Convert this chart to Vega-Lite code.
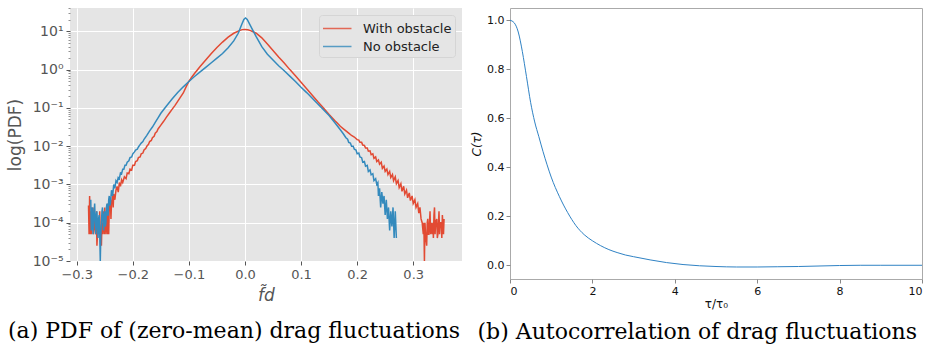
{
  "$schema": "https://vega.github.io/schema/vega-lite/v6.json",
  "background": "white",
  "padding": {"left": 6, "top": 7, "right": 3, "bottom": 0},
  "spacing": 8,
  "resolve": {"scale": {"color": "independent"}, "legend": {"color": "independent"}},
  "config": {
    "font": "DejaVu Sans",
    "axis": {"labelFont": "DejaVu Sans", "titleFont": "DejaVu Sans", "titleFontWeight": "normal"}
  },
  "datasets": {
    "pdf": [
      {"series": "With obstacle", "f_d": -0.279, "log_pdf": -3.55},
      {"series": "With obstacle", "f_d": -0.278, "log_pdf": -4.3},
      {"series": "With obstacle", "f_d": -0.277, "log_pdf": -3.3},
      {"series": "With obstacle", "f_d": -0.276, "log_pdf": -4.3},
      {"series": "With obstacle", "f_d": -0.275, "log_pdf": -3.7},
      {"series": "With obstacle", "f_d": -0.274, "log_pdf": -4.3},
      {"series": "With obstacle", "f_d": -0.273, "log_pdf": -3.8},
      {"series": "With obstacle", "f_d": -0.272, "log_pdf": -4.0},
      {"series": "With obstacle", "f_d": -0.271, "log_pdf": -3.6},
      {"series": "With obstacle", "f_d": -0.27, "log_pdf": -4.3},
      {"series": "With obstacle", "f_d": -0.268, "log_pdf": -3.9},
      {"series": "With obstacle", "f_d": -0.266, "log_pdf": -4.3},
      {"series": "With obstacle", "f_d": -0.265, "log_pdf": -3.7},
      {"series": "With obstacle", "f_d": -0.264, "log_pdf": -4.6},
      {"series": "With obstacle", "f_d": -0.262, "log_pdf": -4.0},
      {"series": "With obstacle", "f_d": -0.26, "log_pdf": -4.3},
      {"series": "With obstacle", "f_d": -0.259, "log_pdf": -3.7},
      {"series": "With obstacle", "f_d": -0.258, "log_pdf": -4.3},
      {"series": "With obstacle", "f_d": -0.256, "log_pdf": -4.6},
      {"series": "With obstacle", "f_d": -0.255, "log_pdf": -4.0},
      {"series": "With obstacle", "f_d": -0.254, "log_pdf": -4.3},
      {"series": "With obstacle", "f_d": -0.252, "log_pdf": -3.7},
      {"series": "With obstacle", "f_d": -0.251, "log_pdf": -4.3},
      {"series": "With obstacle", "f_d": -0.25, "log_pdf": -3.6},
      {"series": "With obstacle", "f_d": -0.249, "log_pdf": -4.0},
      {"series": "With obstacle", "f_d": -0.248, "log_pdf": -4.3},
      {"series": "With obstacle", "f_d": -0.246, "log_pdf": -3.7},
      {"series": "With obstacle", "f_d": -0.245, "log_pdf": -4.3},
      {"series": "With obstacle", "f_d": -0.244, "log_pdf": -3.5},
      {"series": "With obstacle", "f_d": -0.243, "log_pdf": -4.3},
      {"series": "With obstacle", "f_d": -0.242, "log_pdf": -3.6},
      {"series": "With obstacle", "f_d": -0.24, "log_pdf": -3.4},
      {"series": "With obstacle", "f_d": -0.239, "log_pdf": -3.9},
      {"series": "With obstacle", "f_d": -0.238, "log_pdf": -3.5},
      {"series": "With obstacle", "f_d": -0.236, "log_pdf": -3.3},
      {"series": "With obstacle", "f_d": -0.235, "log_pdf": -3.6},
      {"series": "With obstacle", "f_d": -0.234, "log_pdf": -3.25},
      {"series": "With obstacle", "f_d": -0.232, "log_pdf": -3.4},
      {"series": "With obstacle", "f_d": -0.23, "log_pdf": -3.15},
      {"series": "With obstacle", "f_d": -0.228, "log_pdf": -3.05},
      {"series": "With obstacle", "f_d": -0.226, "log_pdf": -3.2},
      {"series": "With obstacle", "f_d": -0.224, "log_pdf": -2.95},
      {"series": "With obstacle", "f_d": -0.222, "log_pdf": -3.05},
      {"series": "With obstacle", "f_d": -0.22, "log_pdf": -2.88},
      {"series": "With obstacle", "f_d": -0.218, "log_pdf": -2.95},
      {"series": "With obstacle", "f_d": -0.215, "log_pdf": -2.8},
      {"series": "With obstacle", "f_d": -0.212, "log_pdf": -2.85},
      {"series": "With obstacle", "f_d": -0.21, "log_pdf": -2.7},
      {"series": "With obstacle", "f_d": -0.207, "log_pdf": -2.72},
      {"series": "With obstacle", "f_d": -0.205, "log_pdf": -2.6},
      {"series": "With obstacle", "f_d": -0.202, "log_pdf": -2.62},
      {"series": "With obstacle", "f_d": -0.2, "log_pdf": -2.5},
      {"series": "With obstacle", "f_d": -0.197, "log_pdf": -2.5},
      {"series": "With obstacle", "f_d": -0.195, "log_pdf": -2.4},
      {"series": "With obstacle", "f_d": -0.192, "log_pdf": -2.38},
      {"series": "With obstacle", "f_d": -0.19, "log_pdf": -2.3},
      {"series": "With obstacle", "f_d": -0.187, "log_pdf": -2.28},
      {"series": "With obstacle", "f_d": -0.185, "log_pdf": -2.2},
      {"series": "With obstacle", "f_d": -0.182, "log_pdf": -2.18},
      {"series": "With obstacle", "f_d": -0.18, "log_pdf": -2.1},
      {"series": "With obstacle", "f_d": -0.177, "log_pdf": -2.06},
      {"series": "With obstacle", "f_d": -0.175, "log_pdf": -2.0},
      {"series": "With obstacle", "f_d": -0.172, "log_pdf": -1.95},
      {"series": "With obstacle", "f_d": -0.17, "log_pdf": -1.88},
      {"series": "With obstacle", "f_d": -0.167, "log_pdf": -1.85},
      {"series": "With obstacle", "f_d": -0.165, "log_pdf": -1.78},
      {"series": "With obstacle", "f_d": -0.162, "log_pdf": -1.74},
      {"series": "With obstacle", "f_d": -0.16, "log_pdf": -1.66},
      {"series": "With obstacle", "f_d": -0.157, "log_pdf": -1.62},
      {"series": "With obstacle", "f_d": -0.155, "log_pdf": -1.55},
      {"series": "With obstacle", "f_d": -0.15, "log_pdf": -1.45},
      {"series": "With obstacle", "f_d": -0.145, "log_pdf": -1.35},
      {"series": "With obstacle", "f_d": -0.14, "log_pdf": -1.24},
      {"series": "With obstacle", "f_d": -0.135, "log_pdf": -1.14},
      {"series": "With obstacle", "f_d": -0.13, "log_pdf": -1.04},
      {"series": "With obstacle", "f_d": -0.125, "log_pdf": -0.94},
      {"series": "With obstacle", "f_d": -0.12, "log_pdf": -0.83},
      {"series": "With obstacle", "f_d": -0.115, "log_pdf": -0.72},
      {"series": "With obstacle", "f_d": -0.11, "log_pdf": -0.61},
      {"series": "With obstacle", "f_d": -0.105, "log_pdf": -0.45},
      {"series": "With obstacle", "f_d": -0.1, "log_pdf": -0.31},
      {"series": "With obstacle", "f_d": -0.095, "log_pdf": -0.2},
      {"series": "With obstacle", "f_d": -0.09, "log_pdf": -0.1},
      {"series": "With obstacle", "f_d": -0.08, "log_pdf": 0.08},
      {"series": "With obstacle", "f_d": -0.07, "log_pdf": 0.25},
      {"series": "With obstacle", "f_d": -0.06, "log_pdf": 0.42},
      {"series": "With obstacle", "f_d": -0.05, "log_pdf": 0.58},
      {"series": "With obstacle", "f_d": -0.04, "log_pdf": 0.72},
      {"series": "With obstacle", "f_d": -0.03, "log_pdf": 0.85},
      {"series": "With obstacle", "f_d": -0.02, "log_pdf": 0.95},
      {"series": "With obstacle", "f_d": -0.01, "log_pdf": 1.02},
      {"series": "With obstacle", "f_d": -0.005, "log_pdf": 1.045},
      {"series": "With obstacle", "f_d": 0.0, "log_pdf": 1.05},
      {"series": "With obstacle", "f_d": 0.005, "log_pdf": 1.04},
      {"series": "With obstacle", "f_d": 0.01, "log_pdf": 1.02},
      {"series": "With obstacle", "f_d": 0.02, "log_pdf": 0.95},
      {"series": "With obstacle", "f_d": 0.03, "log_pdf": 0.83},
      {"series": "With obstacle", "f_d": 0.04, "log_pdf": 0.67},
      {"series": "With obstacle", "f_d": 0.05, "log_pdf": 0.5},
      {"series": "With obstacle", "f_d": 0.06, "log_pdf": 0.33},
      {"series": "With obstacle", "f_d": 0.07, "log_pdf": 0.17},
      {"series": "With obstacle", "f_d": 0.08, "log_pdf": 0.0},
      {"series": "With obstacle", "f_d": 0.09, "log_pdf": -0.16},
      {"series": "With obstacle", "f_d": 0.1, "log_pdf": -0.33},
      {"series": "With obstacle", "f_d": 0.11, "log_pdf": -0.5},
      {"series": "With obstacle", "f_d": 0.12, "log_pdf": -0.67},
      {"series": "With obstacle", "f_d": 0.13, "log_pdf": -0.84},
      {"series": "With obstacle", "f_d": 0.14, "log_pdf": -1.0},
      {"series": "With obstacle", "f_d": 0.15, "log_pdf": -1.17},
      {"series": "With obstacle", "f_d": 0.16, "log_pdf": -1.33},
      {"series": "With obstacle", "f_d": 0.165, "log_pdf": -1.4},
      {"series": "With obstacle", "f_d": 0.17, "log_pdf": -1.48},
      {"series": "With obstacle", "f_d": 0.175, "log_pdf": -1.54},
      {"series": "With obstacle", "f_d": 0.18, "log_pdf": -1.6},
      {"series": "With obstacle", "f_d": 0.185, "log_pdf": -1.66},
      {"series": "With obstacle", "f_d": 0.19, "log_pdf": -1.72},
      {"series": "With obstacle", "f_d": 0.195, "log_pdf": -1.76},
      {"series": "With obstacle", "f_d": 0.2, "log_pdf": -1.83},
      {"series": "With obstacle", "f_d": 0.203, "log_pdf": -1.84},
      {"series": "With obstacle", "f_d": 0.205, "log_pdf": -1.9},
      {"series": "With obstacle", "f_d": 0.208, "log_pdf": -1.9},
      {"series": "With obstacle", "f_d": 0.21, "log_pdf": -1.97},
      {"series": "With obstacle", "f_d": 0.213, "log_pdf": -1.98},
      {"series": "With obstacle", "f_d": 0.215, "log_pdf": -2.05},
      {"series": "With obstacle", "f_d": 0.218, "log_pdf": -2.05},
      {"series": "With obstacle", "f_d": 0.22, "log_pdf": -2.13},
      {"series": "With obstacle", "f_d": 0.223, "log_pdf": -2.12},
      {"series": "With obstacle", "f_d": 0.225, "log_pdf": -2.22},
      {"series": "With obstacle", "f_d": 0.228, "log_pdf": -2.2},
      {"series": "With obstacle", "f_d": 0.23, "log_pdf": -2.32},
      {"series": "With obstacle", "f_d": 0.233, "log_pdf": -2.28},
      {"series": "With obstacle", "f_d": 0.235, "log_pdf": -2.4},
      {"series": "With obstacle", "f_d": 0.238, "log_pdf": -2.36},
      {"series": "With obstacle", "f_d": 0.24, "log_pdf": -2.47},
      {"series": "With obstacle", "f_d": 0.243, "log_pdf": -2.42},
      {"series": "With obstacle", "f_d": 0.245, "log_pdf": -2.58},
      {"series": "With obstacle", "f_d": 0.248, "log_pdf": -2.52},
      {"series": "With obstacle", "f_d": 0.25, "log_pdf": -2.66},
      {"series": "With obstacle", "f_d": 0.253, "log_pdf": -2.6},
      {"series": "With obstacle", "f_d": 0.255, "log_pdf": -2.74},
      {"series": "With obstacle", "f_d": 0.258, "log_pdf": -2.66},
      {"series": "With obstacle", "f_d": 0.26, "log_pdf": -2.82},
      {"series": "With obstacle", "f_d": 0.263, "log_pdf": -2.74},
      {"series": "With obstacle", "f_d": 0.265, "log_pdf": -2.9},
      {"series": "With obstacle", "f_d": 0.268, "log_pdf": -2.8},
      {"series": "With obstacle", "f_d": 0.27, "log_pdf": -2.98},
      {"series": "With obstacle", "f_d": 0.273, "log_pdf": -2.9},
      {"series": "With obstacle", "f_d": 0.275, "log_pdf": -3.08},
      {"series": "With obstacle", "f_d": 0.278, "log_pdf": -2.98},
      {"series": "With obstacle", "f_d": 0.28, "log_pdf": -3.18},
      {"series": "With obstacle", "f_d": 0.283, "log_pdf": -3.05},
      {"series": "With obstacle", "f_d": 0.285, "log_pdf": -3.25},
      {"series": "With obstacle", "f_d": 0.288, "log_pdf": -3.15},
      {"series": "With obstacle", "f_d": 0.29, "log_pdf": -3.35},
      {"series": "With obstacle", "f_d": 0.293, "log_pdf": -3.22},
      {"series": "With obstacle", "f_d": 0.295, "log_pdf": -3.42},
      {"series": "With obstacle", "f_d": 0.298, "log_pdf": -3.3},
      {"series": "With obstacle", "f_d": 0.3, "log_pdf": -3.5},
      {"series": "With obstacle", "f_d": 0.303, "log_pdf": -3.4},
      {"series": "With obstacle", "f_d": 0.305, "log_pdf": -3.6},
      {"series": "With obstacle", "f_d": 0.308, "log_pdf": -3.5},
      {"series": "With obstacle", "f_d": 0.31, "log_pdf": -3.75},
      {"series": "With obstacle", "f_d": 0.312, "log_pdf": -3.6},
      {"series": "With obstacle", "f_d": 0.314, "log_pdf": -3.9},
      {"series": "With obstacle", "f_d": 0.316, "log_pdf": -4.0},
      {"series": "With obstacle", "f_d": 0.318, "log_pdf": -4.3},
      {"series": "With obstacle", "f_d": 0.319, "log_pdf": -4.0},
      {"series": "With obstacle", "f_d": 0.32, "log_pdf": -5.0},
      {"series": "With obstacle", "f_d": 0.321, "log_pdf": -4.0},
      {"series": "With obstacle", "f_d": 0.322, "log_pdf": -4.3},
      {"series": "With obstacle", "f_d": 0.324, "log_pdf": -4.6},
      {"series": "With obstacle", "f_d": 0.325, "log_pdf": -4.0},
      {"series": "With obstacle", "f_d": 0.326, "log_pdf": -3.9},
      {"series": "With obstacle", "f_d": 0.327, "log_pdf": -4.3},
      {"series": "With obstacle", "f_d": 0.328, "log_pdf": -4.3},
      {"series": "With obstacle", "f_d": 0.33, "log_pdf": -3.7},
      {"series": "With obstacle", "f_d": 0.331, "log_pdf": -4.3},
      {"series": "With obstacle", "f_d": 0.332, "log_pdf": -4.0},
      {"series": "With obstacle", "f_d": 0.334, "log_pdf": -4.3},
      {"series": "With obstacle", "f_d": 0.335, "log_pdf": -4.0},
      {"series": "With obstacle", "f_d": 0.336, "log_pdf": -4.4},
      {"series": "With obstacle", "f_d": 0.337, "log_pdf": -3.8},
      {"series": "With obstacle", "f_d": 0.338, "log_pdf": -3.6},
      {"series": "With obstacle", "f_d": 0.339, "log_pdf": -4.3},
      {"series": "With obstacle", "f_d": 0.34, "log_pdf": -4.0},
      {"series": "With obstacle", "f_d": 0.342, "log_pdf": -3.9},
      {"series": "With obstacle", "f_d": 0.343, "log_pdf": -4.4},
      {"series": "With obstacle", "f_d": 0.344, "log_pdf": -4.3},
      {"series": "With obstacle", "f_d": 0.346, "log_pdf": -3.7},
      {"series": "With obstacle", "f_d": 0.347, "log_pdf": -4.3},
      {"series": "With obstacle", "f_d": 0.348, "log_pdf": -4.0},
      {"series": "With obstacle", "f_d": 0.35, "log_pdf": -4.0},
      {"series": "With obstacle", "f_d": 0.351, "log_pdf": -4.4},
      {"series": "With obstacle", "f_d": 0.352, "log_pdf": -3.8},
      {"series": "With obstacle", "f_d": 0.354, "log_pdf": -4.3},
      {"series": "With obstacle", "f_d": 0.355, "log_pdf": -3.9},
      {"series": "No obstacle", "f_d": -0.275, "log_pdf": -3.4},
      {"series": "No obstacle", "f_d": -0.274, "log_pdf": -4.2},
      {"series": "No obstacle", "f_d": -0.273, "log_pdf": -3.8},
      {"series": "No obstacle", "f_d": -0.272, "log_pdf": -3.6},
      {"series": "No obstacle", "f_d": -0.271, "log_pdf": -4.3},
      {"series": "No obstacle", "f_d": -0.27, "log_pdf": -4.0},
      {"series": "No obstacle", "f_d": -0.269, "log_pdf": -3.7},
      {"series": "No obstacle", "f_d": -0.268, "log_pdf": -3.5},
      {"series": "No obstacle", "f_d": -0.267, "log_pdf": -4.0},
      {"series": "No obstacle", "f_d": -0.266, "log_pdf": -4.3},
      {"series": "No obstacle", "f_d": -0.265, "log_pdf": -3.8},
      {"series": "No obstacle", "f_d": -0.264, "log_pdf": -3.7},
      {"series": "No obstacle", "f_d": -0.263, "log_pdf": -4.1},
      {"series": "No obstacle", "f_d": -0.262, "log_pdf": -4.4},
      {"series": "No obstacle", "f_d": -0.261, "log_pdf": -3.9},
      {"series": "No obstacle", "f_d": -0.26, "log_pdf": -3.8},
      {"series": "No obstacle", "f_d": -0.259, "log_pdf": -4.3},
      {"series": "No obstacle", "f_d": -0.258, "log_pdf": -5.0},
      {"series": "No obstacle", "f_d": -0.257, "log_pdf": -4.3},
      {"series": "No obstacle", "f_d": -0.256, "log_pdf": -4.0},
      {"series": "No obstacle", "f_d": -0.255, "log_pdf": -3.7},
      {"series": "No obstacle", "f_d": -0.254, "log_pdf": -3.6},
      {"series": "No obstacle", "f_d": -0.253, "log_pdf": -4.0},
      {"series": "No obstacle", "f_d": -0.252, "log_pdf": -4.2},
      {"series": "No obstacle", "f_d": -0.251, "log_pdf": -3.8},
      {"series": "No obstacle", "f_d": -0.25, "log_pdf": -3.7},
      {"series": "No obstacle", "f_d": -0.249, "log_pdf": -4.1},
      {"series": "No obstacle", "f_d": -0.248, "log_pdf": -4.0},
      {"series": "No obstacle", "f_d": -0.247, "log_pdf": -3.6},
      {"series": "No obstacle", "f_d": -0.246, "log_pdf": -3.5},
      {"series": "No obstacle", "f_d": -0.245, "log_pdf": -3.8},
      {"series": "No obstacle", "f_d": -0.244, "log_pdf": -3.8},
      {"series": "No obstacle", "f_d": -0.243, "log_pdf": -3.4},
      {"series": "No obstacle", "f_d": -0.242, "log_pdf": -3.3},
      {"series": "No obstacle", "f_d": -0.241, "log_pdf": -3.55},
      {"series": "No obstacle", "f_d": -0.24, "log_pdf": -3.5},
      {"series": "No obstacle", "f_d": -0.238, "log_pdf": -3.15},
      {"series": "No obstacle", "f_d": -0.236, "log_pdf": -3.3},
      {"series": "No obstacle", "f_d": -0.234, "log_pdf": -3.0},
      {"series": "No obstacle", "f_d": -0.232, "log_pdf": -3.1},
      {"series": "No obstacle", "f_d": -0.23, "log_pdf": -2.9},
      {"series": "No obstacle", "f_d": -0.228, "log_pdf": -2.95},
      {"series": "No obstacle", "f_d": -0.226, "log_pdf": -2.82},
      {"series": "No obstacle", "f_d": -0.224, "log_pdf": -2.85},
      {"series": "No obstacle", "f_d": -0.222, "log_pdf": -2.7},
      {"series": "No obstacle", "f_d": -0.22, "log_pdf": -2.72},
      {"series": "No obstacle", "f_d": -0.218, "log_pdf": -2.6},
      {"series": "No obstacle", "f_d": -0.216, "log_pdf": -2.6},
      {"series": "No obstacle", "f_d": -0.214, "log_pdf": -2.5},
      {"series": "No obstacle", "f_d": -0.212, "log_pdf": -2.5},
      {"series": "No obstacle", "f_d": -0.21, "log_pdf": -2.42},
      {"series": "No obstacle", "f_d": -0.207, "log_pdf": -2.38},
      {"series": "No obstacle", "f_d": -0.205, "log_pdf": -2.3},
      {"series": "No obstacle", "f_d": -0.202, "log_pdf": -2.28},
      {"series": "No obstacle", "f_d": -0.2, "log_pdf": -2.2},
      {"series": "No obstacle", "f_d": -0.197, "log_pdf": -2.15},
      {"series": "No obstacle", "f_d": -0.195, "log_pdf": -2.1},
      {"series": "No obstacle", "f_d": -0.192, "log_pdf": -2.08},
      {"series": "No obstacle", "f_d": -0.19, "log_pdf": -2.02},
      {"series": "No obstacle", "f_d": -0.187, "log_pdf": -1.96},
      {"series": "No obstacle", "f_d": -0.185, "log_pdf": -1.92},
      {"series": "No obstacle", "f_d": -0.182, "log_pdf": -1.88},
      {"series": "No obstacle", "f_d": -0.18, "log_pdf": -1.82},
      {"series": "No obstacle", "f_d": -0.175, "log_pdf": -1.72},
      {"series": "No obstacle", "f_d": -0.17, "log_pdf": -1.6},
      {"series": "No obstacle", "f_d": -0.165, "log_pdf": -1.5},
      {"series": "No obstacle", "f_d": -0.16, "log_pdf": -1.38},
      {"series": "No obstacle", "f_d": -0.155, "log_pdf": -1.26},
      {"series": "No obstacle", "f_d": -0.15, "log_pdf": -1.14},
      {"series": "No obstacle", "f_d": -0.14, "log_pdf": -0.95},
      {"series": "No obstacle", "f_d": -0.13, "log_pdf": -0.77},
      {"series": "No obstacle", "f_d": -0.12, "log_pdf": -0.6},
      {"series": "No obstacle", "f_d": -0.11, "log_pdf": -0.45},
      {"series": "No obstacle", "f_d": -0.1, "log_pdf": -0.31},
      {"series": "No obstacle", "f_d": -0.09, "log_pdf": -0.18},
      {"series": "No obstacle", "f_d": -0.08, "log_pdf": -0.06},
      {"series": "No obstacle", "f_d": -0.07, "log_pdf": 0.06},
      {"series": "No obstacle", "f_d": -0.06, "log_pdf": 0.18},
      {"series": "No obstacle", "f_d": -0.05, "log_pdf": 0.3},
      {"series": "No obstacle", "f_d": -0.04, "log_pdf": 0.42},
      {"series": "No obstacle", "f_d": -0.03, "log_pdf": 0.57},
      {"series": "No obstacle", "f_d": -0.02, "log_pdf": 0.75},
      {"series": "No obstacle", "f_d": -0.012, "log_pdf": 0.95},
      {"series": "No obstacle", "f_d": -0.006, "log_pdf": 1.17},
      {"series": "No obstacle", "f_d": -0.002, "log_pdf": 1.31},
      {"series": "No obstacle", "f_d": 0.001, "log_pdf": 1.35},
      {"series": "No obstacle", "f_d": 0.004, "log_pdf": 1.31},
      {"series": "No obstacle", "f_d": 0.009, "log_pdf": 1.17},
      {"series": "No obstacle", "f_d": 0.015, "log_pdf": 1.0},
      {"series": "No obstacle", "f_d": 0.02, "log_pdf": 0.86},
      {"series": "No obstacle", "f_d": 0.03, "log_pdf": 0.6},
      {"series": "No obstacle", "f_d": 0.04, "log_pdf": 0.4},
      {"series": "No obstacle", "f_d": 0.05, "log_pdf": 0.25},
      {"series": "No obstacle", "f_d": 0.06, "log_pdf": 0.1},
      {"series": "No obstacle", "f_d": 0.07, "log_pdf": -0.03},
      {"series": "No obstacle", "f_d": 0.08, "log_pdf": -0.17},
      {"series": "No obstacle", "f_d": 0.09, "log_pdf": -0.31},
      {"series": "No obstacle", "f_d": 0.1, "log_pdf": -0.46},
      {"series": "No obstacle", "f_d": 0.11, "log_pdf": -0.6},
      {"series": "No obstacle", "f_d": 0.12, "log_pdf": -0.75},
      {"series": "No obstacle", "f_d": 0.13, "log_pdf": -0.9},
      {"series": "No obstacle", "f_d": 0.14, "log_pdf": -1.05},
      {"series": "No obstacle", "f_d": 0.15, "log_pdf": -1.2},
      {"series": "No obstacle", "f_d": 0.16, "log_pdf": -1.38},
      {"series": "No obstacle", "f_d": 0.17, "log_pdf": -1.57},
      {"series": "No obstacle", "f_d": 0.175, "log_pdf": -1.67},
      {"series": "No obstacle", "f_d": 0.18, "log_pdf": -1.78},
      {"series": "No obstacle", "f_d": 0.183, "log_pdf": -1.82},
      {"series": "No obstacle", "f_d": 0.185, "log_pdf": -1.9},
      {"series": "No obstacle", "f_d": 0.188, "log_pdf": -1.92},
      {"series": "No obstacle", "f_d": 0.19, "log_pdf": -2.0},
      {"series": "No obstacle", "f_d": 0.193, "log_pdf": -2.0},
      {"series": "No obstacle", "f_d": 0.195, "log_pdf": -2.08},
      {"series": "No obstacle", "f_d": 0.198, "log_pdf": -2.1},
      {"series": "No obstacle", "f_d": 0.2, "log_pdf": -2.2},
      {"series": "No obstacle", "f_d": 0.203, "log_pdf": -2.18},
      {"series": "No obstacle", "f_d": 0.205, "log_pdf": -2.28},
      {"series": "No obstacle", "f_d": 0.208, "log_pdf": -2.3},
      {"series": "No obstacle", "f_d": 0.21, "log_pdf": -2.42},
      {"series": "No obstacle", "f_d": 0.213, "log_pdf": -2.4},
      {"series": "No obstacle", "f_d": 0.215, "log_pdf": -2.52},
      {"series": "No obstacle", "f_d": 0.218, "log_pdf": -2.5},
      {"series": "No obstacle", "f_d": 0.22, "log_pdf": -2.66},
      {"series": "No obstacle", "f_d": 0.223, "log_pdf": -2.62},
      {"series": "No obstacle", "f_d": 0.225, "log_pdf": -2.75},
      {"series": "No obstacle", "f_d": 0.228, "log_pdf": -2.72},
      {"series": "No obstacle", "f_d": 0.23, "log_pdf": -2.9},
      {"series": "No obstacle", "f_d": 0.233, "log_pdf": -2.85},
      {"series": "No obstacle", "f_d": 0.235, "log_pdf": -3.0},
      {"series": "No obstacle", "f_d": 0.237, "log_pdf": -2.95},
      {"series": "No obstacle", "f_d": 0.238, "log_pdf": -3.3},
      {"series": "No obstacle", "f_d": 0.24, "log_pdf": -3.1},
      {"series": "No obstacle", "f_d": 0.242, "log_pdf": -3.6},
      {"series": "No obstacle", "f_d": 0.244, "log_pdf": -3.2},
      {"series": "No obstacle", "f_d": 0.246, "log_pdf": -3.5},
      {"series": "No obstacle", "f_d": 0.248, "log_pdf": -3.3},
      {"series": "No obstacle", "f_d": 0.25, "log_pdf": -3.8},
      {"series": "No obstacle", "f_d": 0.252, "log_pdf": -3.4},
      {"series": "No obstacle", "f_d": 0.254, "log_pdf": -3.9},
      {"series": "No obstacle", "f_d": 0.256, "log_pdf": -3.6},
      {"series": "No obstacle", "f_d": 0.258, "log_pdf": -4.2},
      {"series": "No obstacle", "f_d": 0.26, "log_pdf": -3.7},
      {"series": "No obstacle", "f_d": 0.262, "log_pdf": -4.1},
      {"series": "No obstacle", "f_d": 0.264, "log_pdf": -3.6},
      {"series": "No obstacle", "f_d": 0.266, "log_pdf": -4.4},
      {"series": "No obstacle", "f_d": 0.268, "log_pdf": -3.7},
      {"series": "No obstacle", "f_d": 0.27, "log_pdf": -4.4}
    ],
    "acf": [
      {"tau": 0, "C": 1.0},
      {"tau": 0.1, "C": 0.99},
      {"tau": 0.2, "C": 0.952},
      {"tau": 0.3, "C": 0.872},
      {"tau": 0.4, "C": 0.77},
      {"tau": 0.5, "C": 0.665},
      {"tau": 0.6, "C": 0.585},
      {"tau": 0.7, "C": 0.525},
      {"tau": 0.8, "C": 0.465},
      {"tau": 0.9, "C": 0.41},
      {"tau": 1.0, "C": 0.36},
      {"tau": 1.2, "C": 0.28},
      {"tau": 1.4, "C": 0.215},
      {"tau": 1.6, "C": 0.162},
      {"tau": 1.8, "C": 0.125},
      {"tau": 2.0, "C": 0.1},
      {"tau": 2.2, "C": 0.08},
      {"tau": 2.4, "C": 0.064},
      {"tau": 2.6, "C": 0.052},
      {"tau": 2.8, "C": 0.042},
      {"tau": 3.0, "C": 0.035},
      {"tau": 3.4, "C": 0.022},
      {"tau": 3.8, "C": 0.011},
      {"tau": 4.2, "C": 0.003},
      {"tau": 4.6, "C": -0.002},
      {"tau": 5.0, "C": -0.005},
      {"tau": 5.5, "C": -0.007},
      {"tau": 6.0, "C": -0.007},
      {"tau": 6.5, "C": -0.006},
      {"tau": 7.0, "C": -0.005},
      {"tau": 7.5, "C": -0.003},
      {"tau": 8.0, "C": -0.001},
      {"tau": 8.5, "C": 0.0},
      {"tau": 9.0, "C": 0.0},
      {"tau": 10.0, "C": 0.0}
    ]
  },
  "hconcat": [
    {
      "width": 392,
      "height": 253,
      "view": {"fill": "#E5E5E5", "stroke": null},
      "title": {"text": "(a) PDF of (zero-mean) drag fluctuations", "orient": "bottom", "anchor": "middle", "frame": "bounds", "font": "DejaVu Serif", "fontSize": 22, "fontWeight": "normal", "color": "#000000", "offset": 18},
      "data": {"name": "pdf"},
      "layer": [
        {
          "mark": {"type": "line", "strokeWidth": 1.5},
          "encoding": {
            "x": {
              "field": "f_d", "type": "quantitative",
              "scale": {"domain": [-0.312, 0.387], "nice": false, "zero": false},
              "axis": {
                "values": [-0.3, -0.2, -0.1, 0, 0.1, 0.2, 0.3],
                "labelExpr": "replace(format(datum.value, '.1f'), '-', '\u2212')",
                "grid": true, "gridColor": "#FFFFFF", "gridWidth": 1,
                "domain": false, "tickColor": "#555555", "tickSize": 4,
                "labelColor": "#555555", "labelFontSize": 13, "labelPadding": 3,
                "title": "f\u0303d", "titleFontSize": 17, "titleColor": "#555555", "titleFontStyle": "italic", "titlePadding": 6
              }
            },
            "y": {
              "field": "log_pdf", "type": "quantitative",
              "scale": {"domain": [-5, 1.61], "nice": false, "zero": false},
              "axis": {
                "values": [-5, -4, -3, -2, -1, 0, 1],
                "labelExpr": "datum.value == 1 ? '10\u00b9' : datum.value == 0 ? '10\u2070' : datum.value == -1 ? '10\u207b\u00b9' : datum.value == -2 ? '10\u207b\u00b2' : datum.value == -3 ? '10\u207b\u00b3' : datum.value == -4 ? '10\u207b\u2074' : '10\u207b\u2075'",
                "grid": true, "gridColor": "#FFFFFF", "gridWidth": 1,
                "domain": false, "tickColor": "#555555", "tickSize": 4,
                "labelColor": "#555555", "labelFontSize": 14, "labelPadding": 3,
                "title": "log(PDF)", "titleFontSize": 17, "titleColor": "#555555", "titlePadding": 8
              }
            },
            "color": {
              "field": "series", "type": "nominal", "sort": ["With obstacle", "No obstacle"],
              "scale": {"domain": ["With obstacle", "No obstacle"], "range": ["#E24A33", "#348ABD"]},
              "legend": {
                "orient": "top-right", "offset": 7, "title": null,
                "symbolType": "M-1,0H2", "symbolSize": 361, "symbolStrokeWidth": 1.5, "symbolOpacity": 0.8,
                "symbolFillColor": "transparent",
                "labelFontSize": 13, "labelColor": "#222222", "labelOffset": 20,
                "fillColor": "#E5E5E5", "strokeColor": "#D5D5D5", "cornerRadius": 3,
                "padding": 3, "rowPadding": 0
              }
            }
          }
        },
        {
          "mark": {"type": "line", "opacity": 0},
          "encoding": {
            "x": {"field": "f_d", "type": "quantitative"},
            "y": {
              "field": "log_pdf", "type": "quantitative",
              "axis": {
                "orient": "left",
                "values": [-4.699, -4.523, -4.398, -4.301, -4.222, -4.155, -4.097, -4.046, -3.699, -3.523, -3.398, -3.301, -3.222, -3.155, -3.097, -3.046, -2.699, -2.523, -2.398, -2.301, -2.222, -2.155, -2.097, -2.046, -1.699, -1.523, -1.398, -1.301, -1.222, -1.155, -1.097, -1.046, -0.699, -0.523, -0.398, -0.301, -0.222, -0.155, -0.097, -0.046, 0.301, 0.477, 0.602, 0.699, 0.778, 0.845, 0.903, 0.954, 1.301, 1.477, 1.602],
                "labels": false, "grid": false, "domain": false, "title": null,
                "tickColor": "#777777", "tickSize": 2, "tickWidth": 0.8
              }
            }
          }
        }
      ],
      "resolve": {"axis": {"y": "independent"}}
    },
    {
      "width": 412,
      "height": 271,
      "view": {"stroke": "#AAAAAA", "strokeWidth": 1, "fill": "white"},
      "title": {"text": "(b) Autocorrelation of drag fluctuations", "orient": "bottom", "anchor": "middle", "frame": "bounds", "font": "DejaVu Serif", "fontSize": 22, "fontWeight": "normal", "color": "#000000", "offset": 13},
      "layer": [
        {
          "data": {"name": "acf"},
          "mark": {"type": "line", "color": "#2f82c4", "strokeWidth": 1, "interpolate": "monotone"},
          "encoding": {
            "x": {
              "field": "tau", "type": "quantitative",
              "scale": {"domain": [0, 10], "nice": false, "zero": false},
              "axis": {
                "values": [0, 2, 4, 6, 8, 10], "format": "d",
                "grid": false, "domain": false, "tickColor": "#888888", "tickSize": 4,
                "labelColor": "#111111", "labelFontSize": 11, "labelPadding": 2,
                "title": "\u03c4/\u03c4\u2080", "titleFontSize": 12, "titleColor": "#111111", "titlePadding": 2
              }
            },
            "y": {
              "field": "C", "type": "quantitative",
              "scale": {"domain": [-0.056, 1.05], "nice": false, "zero": false},
              "axis": {
                "values": [0, 0.2, 0.4, 0.6, 0.8, 1.0], "format": ".1f",
                "grid": false, "domain": false, "tickColor": "#888888", "tickSize": 4,
                "labelColor": "#111111", "labelFontSize": 11, "labelPadding": 2,
                "title": "C(\u03c4)", "titleFontSize": 12, "titleColor": "#111111", "titleFontStyle": "italic", "titlePadding": 3
              }
            }
          }
        },
        {
          "mark": {"type": "rule", "color": "#2f82c4", "strokeDash": [3, 2], "strokeWidth": 0.8},
          "encoding": {"y": {"datum": 0}}
        }
      ]
    }
  ]
}
